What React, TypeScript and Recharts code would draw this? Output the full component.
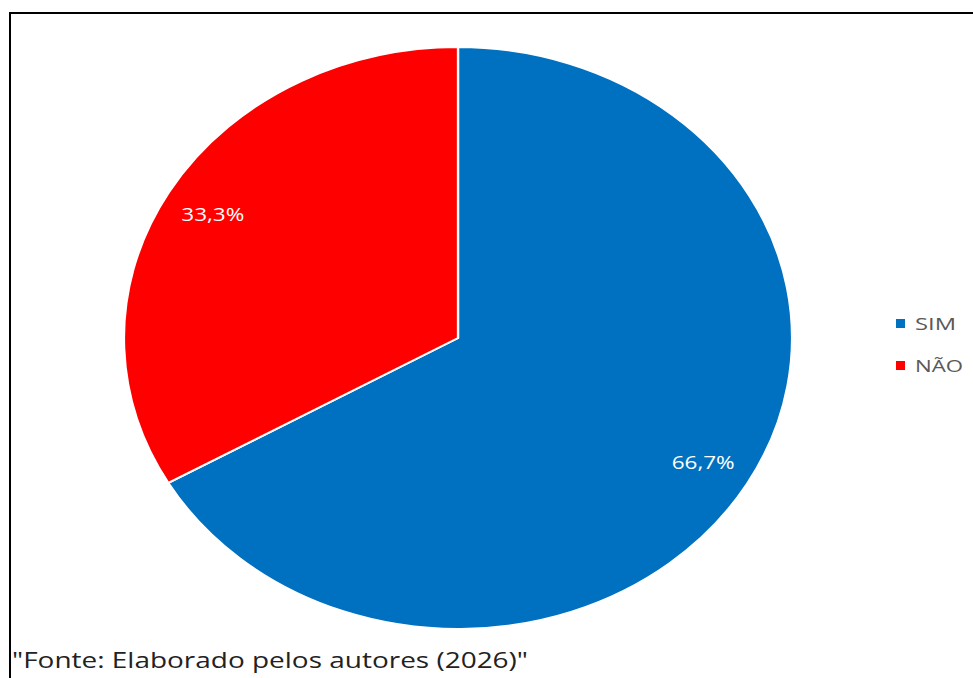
import React from 'react';
import { PieChart, Pie, Cell, Sector, Legend } from 'recharts';

const categories = ['SIM', 'NÃO'];
const shares = [66.7, 33.3];
const colors = ['#0070C0', '#FF0000'];
const sourceNote = '"Fonte: Elaborado pelos autores (2026)"';

const chartData = categories.map((name, i) => ({ name, value: shares[i] }));

// the original pie is an ellipse, so sectors get stretched horizontally
const SX = 1.148;
const RAD = Math.PI / 180;
const FONT = "'Open Sans', sans-serif";

const StretchedSector = (props: any) => {
  const { cx, cy } = props;
  return (
    <g transform={`translate(${cx} ${cy}) scale(${SX} 1) translate(${-cx} ${-cy})`}>
      <Sector {...props} stroke="#fff" strokeWidth={2} />
    </g>
  );
};

const renderLabel = (props: any) => {
  const { cx, cy, midAngle, outerRadius, percent } = props;
  const r = outerRadius * 0.848;
  const x = cx + r * Math.cos(-midAngle * RAD) * SX;
  const y = cy + r * Math.sin(-midAngle * RAD);
  const txt = (percent * 100).toFixed(1).replace('.', ',') + '%';
  return (
    <text
      x={x}
      y={y}
      fill="#fff"
      textAnchor="middle"
      dominantBaseline="central"
      fontFamily={FONT}
      fontSize={18}
      textLength={63}
      lengthAdjust="spacingAndGlyphs"
    >
      {txt}
    </text>
  );
};

const LegendBox = (props: any) => {
  const items = [...(props.payload || [])].sort(
    (a: any, b: any) => categories.indexOf(a.value) - categories.indexOf(b.value)
  );
  return (
    <svg width={80} height={70}>
      {items.map((it: any, i: number) => (
        <g key={it.value} transform={`translate(0 ${i * 42})`}>
          <rect x={0} y={7} width={9} height={9} fill={colors[categories.indexOf(it.value)]} />
          <text
            x={19}
            y={18}
            fill="#595959"
            fontFamily={FONT}
            fontSize={17}
            textLength={i === 0 ? 41 : 48}
            lengthAdjust="spacingAndGlyphs"
          >
            {it.value}
          </text>
        </g>
      ))}
    </svg>
  );
};

export default function App() {
  return (
    <div style={{ position: 'absolute', left: 0, top: 0, width: 973, height: 678, background: '#fff', overflow: 'hidden' }}>
      <div style={{ position: 'absolute', left: 9, top: 12, width: 964, height: 666, borderTop: '2px solid #000', borderLeft: '2px solid #000', boxSizing: 'border-box' }} />
      <PieChart width={973} height={678} margin={{ top: 0, right: 0, bottom: 0, left: 0 }}>
        <Pie
          data={chartData}
          dataKey="value"
          nameKey="name"
          cx={458}
          cy={338}
          outerRadius={291}
          startAngle={90}
          endAngle={-270}
          shape={StretchedSector}
          label={renderLabel}
          labelLine={false}
          isAnimationActive={false}
        >
          {chartData.map((d, i) => (
            <Cell key={d.name} fill={colors[i]} />
          ))}
        </Pie>
        <Legend
          content={<LegendBox />}
          layout="vertical"
          wrapperStyle={{ position: 'absolute', left: 896, top: 312, width: 80 }}
        />
      </PieChart>
      <svg style={{ position: 'absolute', left: 0, top: 0 }} width={973} height={678}>
        <text
          x={12}
          y={668}
          fill="#222"
          fontFamily={FONT}
          fontSize={21}
          textLength={516}
          lengthAdjust="spacingAndGlyphs"
        >
          {sourceNote}
        </text>
      </svg>
    </div>
  );
}
